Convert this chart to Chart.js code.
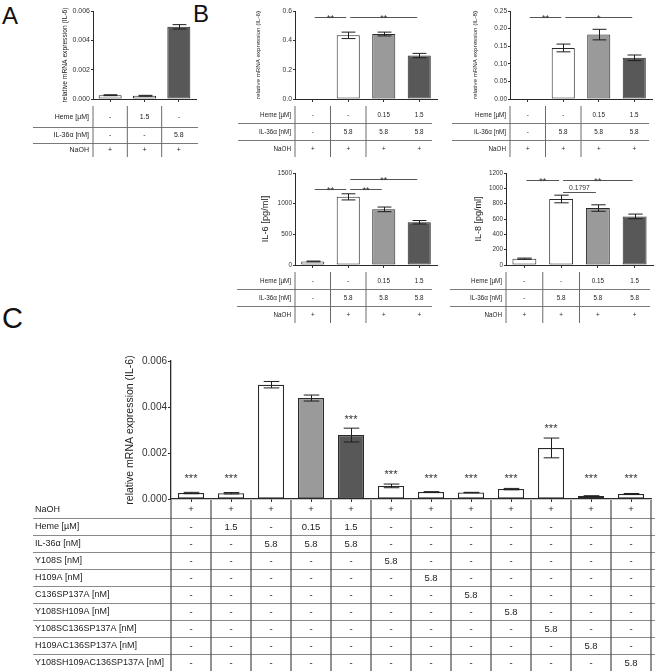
<!DOCTYPE html>
<html>
<head>
<meta charset="utf-8">
<script src="https://cdn.jsdelivr.net/npm/chart.js@4.4.1/dist/chart.umd.min.js"></script>
<style>
  html, body { margin: 0; padding: 0; background: #fff; }
  body { width: 656px; height: 671px; position: relative; overflow: hidden; font-family: 'Liberation Sans', Arial, sans-serif; }
  canvas { position: absolute; }
  .tag { position: absolute; font-size: 24px; line-height: 1; color: #111; }
</style>
</head>
<body>
<div class="tag" style="left:2px;top:4px">A</div>
<div class="tag" style="left:193px;top:2px">B</div>
<div class="tag" style="left:2px;top:304px;font-size:29px">C</div>
<canvas id="chartA"></canvas>
<canvas id="chartB1"></canvas>
<canvas id="chartB2"></canvas>
<canvas id="chartB3"></canvas>
<canvas id="chartB4"></canvas>
<canvas id="chartC"></canvas>
<script>
// --- data panel A ---
const groupsA = ['NaOH', 'Heme', 'IL-36a'];
const mrnaA = [0.00026, 0.00022, 0.00492];
const semA = [0.00003, 0.00003, 0.00015];
const hemeA = ['-', '1.5', '-'];
const il36A = ['-', '-', '5.8'];
const naohA = ['+', '+', '+'];

// --- data panel B ---
const groupsB = ['NaOH', 'IL-36a', 'IL-36a + Heme 0.15', 'IL-36a + Heme 1.5'];
const il6mrnaB = [0, 0.434, 0.443, 0.296];
const il6mrnaSem = [0, 0.022, 0.013, 0.015];
const il8mrnaB = [0, 0.145, 0.183, 0.117];
const il8mrnaSem = [0, 0.011, 0.015, 0.008];
const il6protB = [58, 1111, 907, 697];
const il6protSem = [6, 50, 38, 28];
const il8protB = [82, 861, 743, 634];
const il8protSem = [8, 50, 42, 30];
const hemeB = ['-', '-', '0.15', '1.5'];
const il36B = ['-', '5.8', '5.8', '5.8'];
const naohB = ['+', '+', '+', '+'];
// brackets: [from, to, label, height]
const sigB1 = [[0, 1, '**', 0.56], [1, 3, '**', 0.56]];
const sigB2 = [[0, 1, '**', 0.233], [1, 3, '*', 0.233]];
const sigB3 = [[0, 1, '**', 1240], [1, 2, '**', 1240], [1, 3, '**', 1400]];
const sigB4 = [[0, 1, '**', 1110], [1, 3, '**', 1110], [1, 2, '0.1797', 950]];

// --- data panel C ---
const groupsC = ['NaOH', 'Heme', 'IL-36a', 'IL-36a+Heme 0.15', 'IL-36a+Heme 1.5', 'Y108S', 'H109A',
  'C136SP137A', 'Y108SH109A', 'Y108SC136SP137A', 'H109AC136SP137A', 'Y108SH109AC136SP137A'];
const mrnaC = [0.00026, 0.00025, 0.00497, 0.00439, 0.00278, 0.00057, 0.00030, 0.00028, 0.00043, 0.00222, 0.00013, 0.00022];
const semC = [0.00003, 0.00003, 0.00014, 0.00013, 0.00030, 0.00008, 0.00002, 0.00001, 0.00003, 0.00043, 0.00001, 0.00002];
const starsC = ['***', '***', '', '', '***', '***', '***', '***', '***', '***', '***', '***'];
const rowNamesC = ['NaOH', 'Heme [\u00b5M]', 'IL-36\u03b1 [nM]', 'Y108S [nM]', 'H109A [nM]', 'C136SP137A [nM]',
  'Y108SH109A [nM]', 'Y108SC136SP137A [nM]', 'H109AC136SP137A [nM]', 'Y108SH109AC136SP137A [nM]'];
const cellsC = [
  ['+', '+', '+', '+', '+', '+', '+', '+', '+', '+', '+', '+'],
  ['-', '1.5', '-', '0.15', '1.5', '-', '-', '-', '-', '-', '-', '-'],
  ['-', '-', '5.8', '5.8', '5.8', '-', '-', '-', '-', '-', '-', '-'],
  ['-', '-', '-', '-', '-', '5.8', '-', '-', '-', '-', '-', '-'],
  ['-', '-', '-', '-', '-', '-', '5.8', '-', '-', '-', '-', '-'],
  ['-', '-', '-', '-', '-', '-', '-', '5.8', '-', '-', '-', '-'],
  ['-', '-', '-', '-', '-', '-', '-', '-', '5.8', '-', '-', '-'],
  ['-', '-', '-', '-', '-', '-', '-', '-', '-', '5.8', '-', '-'],
  ['-', '-', '-', '-', '-', '-', '-', '-', '-', '-', '5.8', '-'],
  ['-', '-', '-', '-', '-', '-', '-', '-', '-', '-', '-', '5.8']
];

const FONT = "'Liberation Sans', Arial, sans-serif";
Chart.defaults.font.family = FONT;
const WHITE = '#ffffff', GREY = '#9a9a9a', DARK = '#585858';

const extras = {};

// error bars, brackets, stars
const annotPlugin = {
  id: 'annot',
  afterDatasetsDraw(chart) {
    const ex = extras[chart.canvas.id];
    const ctx = chart.ctx, y = chart.scales.y, x = chart.scales.x;
    const bars = chart.getDatasetMeta(0).data;
    const vals = chart.data.datasets[0].data;
    ctx.save();
    ctx.strokeStyle = '#1e1e1e';
    ctx.lineWidth = 1;
    ex.errors.forEach((e, i) => {
      if (!e) return;
      const bx = Math.round(bars[i].x) + 0.5, cap = bars[i].width * 0.3;
      const t = y.getPixelForValue(vals[i] + e), b = y.getPixelForValue(vals[i] - e);
      ctx.beginPath();
      ctx.moveTo(bx, b); ctx.lineTo(bx, t);
      ctx.moveTo(bx - cap, t); ctx.lineTo(bx + cap, t);
      ctx.moveTo(bx - cap, b); ctx.lineTo(bx + cap, b);
      ctx.stroke();
    });
    ctx.textAlign = 'center';
    ctx.textBaseline = 'alphabetic';
    (ex.brackets || []).forEach(([a, c, label, v]) => {
      const x1 = x.getPixelForValue(a) + 2, x2 = x.getPixelForValue(c) - 2;
      const py = Math.round(y.getPixelForValue(v)) + 0.5;
      ctx.strokeStyle = '#555';
      ctx.beginPath(); ctx.moveTo(x1, py); ctx.lineTo(x2, py); ctx.stroke();
      const star = label[0] === '*';
      const size = star ? ex.starSize : ex.numSize;
      ctx.font = size + 'px ' + FONT;
      ctx.fillStyle = '#333';
      ctx.fillText(label, (x1 + x2) / 2, star ? py + size * 0.36 : py - 2.5);
    });
    if (ex.stars) {
      ctx.font = ex.starSize + 'px ' + FONT;
      ctx.fillStyle = '#333';
      ex.stars.forEach((s, i) => {
        if (!s) return;
        const top = y.getPixelForValue(vals[i] + ex.errors[i]) - 12;
        const cy = Math.min(top, y.getPixelForValue(0.001));
        ctx.fillText(s, bars[i].x, cy + ex.starSize * 0.58);
      });
    }
    ctx.restore();
  }
};

// condition table under the x axis
const tablePlugin = {
  id: 'condTable',
  afterDraw(chart) {
    const tb = extras[chart.canvas.id].table;
    const ctx = chart.ctx, x = chart.scales.x, area = chart.chartArea;
    const b = area.bottom;
    const half = (x.getPixelForValue(1) - x.getPixelForValue(0)) / 2;
    const bd = tb.bounds;
    ctx.save();
    ctx.strokeStyle = tb.hColor;
    ctx.lineWidth = 1;
    for (let k = 1; k < bd.length - 1; k++) {
      const py = Math.round(b + bd[k]) + 0.5;
      ctx.beginPath(); ctx.moveTo(tb.from, py); ctx.lineTo(tb.to, py); ctx.stroke();
    }
    ctx.strokeStyle = tb.vColor;
    ctx.lineWidth = tb.vWidth;
    const xs = [area.left].concat(tb.dividers.map(i => x.getPixelForValue(i) + half));
    xs.forEach(px => {
      ctx.beginPath(); ctx.moveTo(px, b + bd[0]); ctx.lineTo(px, b + bd[bd.length - 1]); ctx.stroke();
    });
    ctx.fillStyle = '#222';
    ctx.textBaseline = 'middle';
    ctx.font = tb.size + 'px ' + FONT;
    tb.rows.forEach((row, r) => {
      const cy = b + (bd[r] + bd[r + 1]) / 2 + 0.5;
      ctx.textAlign = tb.align;
      ctx.font = (tb.labelSize || tb.size) + 'px ' + FONT;
      ctx.fillText(row[0], tb.align === 'left' ? tb.labelX : area.left - 4, cy);
      ctx.textAlign = 'center';
      ctx.font = tb.size + 'px ' + FONT;
      row[1].forEach((c, i) => ctx.fillText(c, x.getPixelForValue(i), cy));
    });
    ctx.restore();
  }
};

function build(id, box, plot, cfg) {
  const cv = document.getElementById(id);
  cv.width = box.w; cv.height = box.h;
  cv.style.left = box.l + 'px'; cv.style.top = box.t + 'px';
  const yw = plot.l - box.l;
  const lh = cfg.titleSize * 1.2;
  extras[id] = cfg.extra;
  new Chart(cv, {
    type: 'bar',
    data: {
      labels: cfg.labels,
      datasets: [{
        data: cfg.values,
        backgroundColor: cfg.fills,
        borderColor: '#2a2a2a',
        borderWidth: cfg.border,
        borderSkipped: false,
        barPercentage: cfg.barPct,
        categoryPercentage: 1
      }]
    },
    options: {
      responsive: false,
      animation: false,
      devicePixelRatio: 1,
      events: [],
      layout: { padding: { left: 0, top: plot.t - box.t, right: box.l + box.w - plot.r, bottom: box.t + box.h - plot.b } },
      plugins: { legend: { display: false }, tooltip: { enabled: false } },
      scales: {
        x: {
          grid: { drawOnChartArea: false, offset: false, tickLength: 3, color: '#333', lineWidth: 1 },
          border: { color: '#2a2a2a', width: cfg.axisWidth },
          ticks: { display: false },
          afterFit: s => { s.height = 0; }
        },
        y: {
          min: 0,
          max: cfg.max,
          grid: { drawOnChartArea: false, tickLength: cfg.tickLen, color: '#333' },
          border: { color: '#2a2a2a', width: cfg.axisWidth },
          ticks: {
            stepSize: cfg.step,
            color: '#333',
            padding: 1,
            font: { size: cfg.tickSize },
            callback: v => Number(v).toFixed(cfg.dec)
          },
          title: {
            display: true,
            text: cfg.title,
            color: '#222',
            font: { size: cfg.titleSize },
            padding: { top: cfg.titleX - box.l - lh / 2, bottom: 0 }
          },
          afterFit: s => { s.width = yw; }
        }
      }
    },
    plugins: [annotPlugin, tablePlugin]
  });
}

const boundsAB = [7, 24, 41, 58];
const tableB = (from, to) => ({
  rows: [['Heme [\u00b5M]', hemeB], ['IL-36\u03b1 [nM]', il36B], ['NaOH', naohB]],
  bounds: boundsAB, from: from, to: to, dividers: [0, 1],
  hColor: '#7a7a7a', vColor: '#6a6a6a', vWidth: 1, size: 6.3, align: 'right'
});
const fillsB = [WHITE, WHITE, GREY, DARK];

build('chartA', { l: 30, t: 0, w: 172, h: 160 }, { l: 93, r: 196, t: 11, b: 99 }, {
  labels: groupsA, values: mrnaA, fills: [WHITE, WHITE, DARK], border: 1, barPct: 0.67, axisWidth: 1,
  max: 0.006, step: 0.002, dec: 3, tickSize: 7, tickLen: 2,
  title: 'relative mRNA expression (IL-6)', titleSize: 6.7, titleX: 65,
  extra: {
    errors: semA,
    table: {
      rows: [['Heme [\u00b5M]', hemeA], ['IL-36\u03b1 [nM]', il36A], ['NaOH', naohA]],
      bounds: [7, 28, 44, 58], from: 3, to: 168, dividers: [0, 1],
      hColor: '#7a7a7a', vColor: '#6a6a6a', vWidth: 1, size: 7, align: 'right'
    }
  }
});

build('chartB1', { l: 232, t: 0, w: 208, h: 160 }, { l: 295, r: 437, t: 11, b: 99 }, {
  labels: groupsB, values: il6mrnaB, fills: fillsB, border: 1, barPct: 0.65, axisWidth: 1,
  max: 0.6, step: 0.2, dec: 1, tickSize: 6.8, tickLen: 2,
  title: 'relative mRNA expression (IL-6)', titleSize: 6.2, titleX: 258,
  extra: { errors: il6mrnaSem, brackets: sigB1, starSize: 9, numSize: 6.5, table: tableB(6, 200) }
});

build('chartB2', { l: 445, t: 0, w: 211, h: 160 }, { l: 510, r: 652, t: 11, b: 99 }, {
  labels: groupsB, values: il8mrnaB, fills: fillsB, border: 1, barPct: 0.65, axisWidth: 1,
  max: 0.25, step: 0.05, dec: 2, tickSize: 6.5, tickLen: 2,
  title: 'relative mRNA expression (IL-8)', titleSize: 6.2, titleX: 475,
  extra: { errors: il8mrnaSem, brackets: sigB2, starSize: 9, numSize: 6.5, table: tableB(7, 204) }
});

build('chartB3', { l: 232, t: 160, w: 208, h: 165 }, { l: 295, r: 437, t: 173, b: 265 }, {
  labels: groupsB, values: il6protB, fills: fillsB, border: 1, barPct: 0.65, axisWidth: 1,
  max: 1500, step: 500, dec: 0, tickSize: 6.5, tickLen: 2,
  title: 'IL-6 [pg/ml]', titleSize: 9.3, titleX: 265,
  extra: { errors: il6protSem, brackets: sigB3, starSize: 9, numSize: 6.5, table: tableB(5, 200) }
});

build('chartB4', { l: 445, t: 160, w: 211, h: 165 }, { l: 506, r: 653, t: 173, b: 265 }, {
  labels: groupsB, values: il8protB, fills: fillsB, border: 1, barPct: 0.65, axisWidth: 1,
  max: 1200, step: 200, dec: 0, tickSize: 6.3, tickLen: 2,
  title: 'IL-8 [pg/ml]', titleSize: 9, titleX: 479,
  extra: { errors: il8protSem, brackets: sigB4, starSize: 9, numSize: 6.8, table: tableB(5, 205) }
});

build('chartC', { l: 0, t: 335, w: 656, h: 336 }, { l: 171, r: 651, t: 361, b: 499 }, {
  labels: groupsC, values: mrnaC,
  fills: [WHITE, WHITE, WHITE, GREY, DARK, WHITE, WHITE, WHITE, WHITE, WHITE, WHITE, WHITE],
  border: 1.2, barPct: 0.65, axisWidth: 1.3,
  max: 0.006, step: 0.002, dec: 3, tickSize: 10, tickLen: 3,
  title: 'relative mRNA expression (IL-6)', titleSize: 10.5, titleX: 130,
  extra: {
    errors: semC, stars: starsC, starSize: 11,
    table: {
      rows: rowNamesC.map((r, k) => [r, cellsC[k]]),
      bounds: [1, 19, 36, 53, 70, 87, 104, 121, 138, 155, 172], from: 33, to: 655,
      dividers: [0, 1, 2, 3, 4, 5, 6, 7, 8, 9, 10, 11],
      hColor: '#8a8a8a', vColor: '#4a4a4a', vWidth: 1.2, size: 9.5, labelSize: 9, align: 'left', labelX: 35
    }
  }
});
</script>
</body>
</html>
